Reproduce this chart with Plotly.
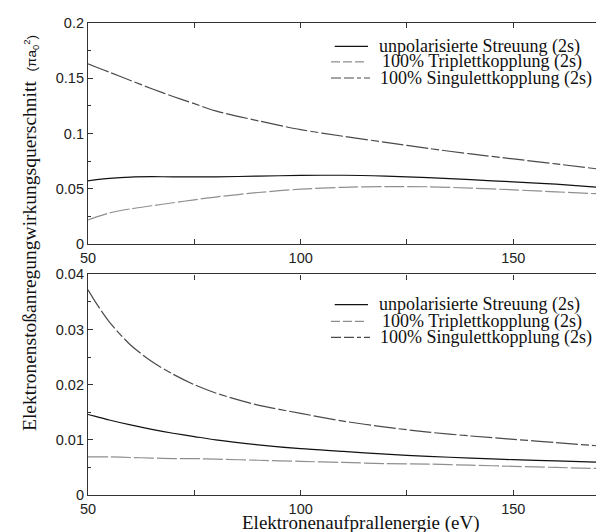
import plotly.graph_objects as go

# ---------------- data ----------------
energy = [50, 52, 55, 60, 65, 70, 75, 80, 90, 100, 110, 120, 130, 140, 150, 160, 175]

top_unpol = [0.0572, 0.0582, 0.0594, 0.0606, 0.0609, 0.0608, 0.0607, 0.0608, 0.0614,
             0.0621, 0.0622, 0.0614, 0.0601, 0.0582, 0.0562, 0.0541, 0.0500]
top_trip = [0.0217, 0.0245, 0.0280, 0.0318, 0.0346, 0.0373, 0.0400, 0.0425, 0.0466,
            0.0496, 0.0513, 0.0520, 0.0518, 0.0506, 0.0490, 0.0472, 0.0445]
top_sing = [0.1630, 0.1600, 0.1555, 0.1480, 0.1405, 0.1335, 0.1270, 0.1205, 0.1115,
            0.1035, 0.0975, 0.0920, 0.0865, 0.0815, 0.0770, 0.0725, 0.0655]

bot_unpol = [0.0146, 0.0142, 0.0136, 0.0127, 0.0119, 0.0112, 0.0106, 0.0100, 0.0091,
             0.0084, 0.0079, 0.0074, 0.0070, 0.0067, 0.0064, 0.0062, 0.0058]
bot_trip = [0.0069, 0.0069, 0.0069, 0.0068, 0.0067, 0.0066, 0.0066, 0.0065, 0.0063,
            0.0061, 0.0059, 0.0057, 0.0056, 0.0054, 0.0052, 0.0050, 0.0047]
bot_sing = [0.0372, 0.0347, 0.0314, 0.0272, 0.0242, 0.0219, 0.0200, 0.0185, 0.0163,
            0.0148, 0.0134, 0.0123, 0.0114, 0.0107, 0.0101, 0.0095, 0.0086]

series_names = ["unpolarisierte Streuung (2s)",
                "100% Triplettkopplung (2s)",
                "100% Singulettkopplung (2s)"]

x_title = "Elektronenaufprallenergie (eV)"
y_title = "Elektronenstoßanregungwirkungsquerschnitt"

# ---------------- geometry ----------------
W, H = 604, 532
ML, MR, MT, MB = 80, 0, 15, 45
PW, PH = W - ML - MR, H - MT - MB

def px(xp):
    return (xp - ML) / PW

def py(yp):
    return (MT + PH - yp) / PH

styles = [
    dict(color="#111111", width=1.2, dash="solid"),
    dict(color="#8f8f8f", width=1.2, dash="20px,3px"),
    dict(color="#4a4a4a", width=1.2, dash="22px,3px,22px,3px,8px,3px"),
]
legend_dash = ["solid", "9px,3px", "10px,3px,10px,3px,4px,3px"]

serif = "Liberation Serif, Times New Roman, serif"
sans = "Liberation Sans, Arial, sans-serif"

fig = go.Figure()
for ys, st, nm in zip([top_unpol, top_trip, top_sing], styles, series_names):
    fig.add_trace(go.Scatter(x=energy, y=ys, mode="lines", name=nm, showlegend=False,
                             line=dict(shape="spline", smoothing=0.8, **st),
                             xaxis="x", yaxis="y"))
for ys, st, nm in zip([bot_unpol, bot_trip, bot_sing], styles, series_names):
    fig.add_trace(go.Scatter(x=energy, y=ys, mode="lines", name=nm, showlegend=False,
                             line=dict(shape="spline", smoothing=0.8, **st),
                             xaxis="x2", yaxis="y2"))

axis_common = dict(showline=True, linecolor="#333333", linewidth=1.2,
                   ticks="inside", ticklen=5, tickcolor="#333333", tickwidth=1,
                   showgrid=False, zeroline=False,
                   tickfont=dict(family=sans, size=14.5, color="#222222"))

xr = [50, 173.2]
fig.update_layout(
    width=W, height=H,
    margin=dict(l=ML, r=MR, t=MT, b=MB),
    plot_bgcolor="white", paper_bgcolor="white",
    xaxis=dict(domain=[0, 1], range=xr, anchor="y", dtick=50, tick0=50, mirror="ticks",
               minor=dict(dtick=25, ticks="inside", ticklen=5, tickcolor="#333333"),
               **axis_common),
    yaxis=dict(domain=[py(236), 1], range=[0, 0.2], anchor="x", dtick=0.05,
               minor=dict(dtick=0.025, ticks="inside", ticklen=3, tickcolor="#333333"),
               **axis_common),
    xaxis2=dict(domain=[0, 1], range=xr, anchor="y2", dtick=50, tick0=50, mirror="ticks",
                minor=dict(dtick=25, ticks="inside", ticklen=5, tickcolor="#333333"),
                **axis_common),
    yaxis2=dict(domain=[0, py(266.4)], range=[0, 0.04], anchor="x2", dtick=0.01,
                minor=dict(dtick=0.005, ticks="inside", ticklen=3, tickcolor="#333333"),
                **axis_common),
)

annotations = []
shapes = []

# custom legends (top and bottom panel)
legend_rows = [[38.3, 53.8, 70.0], [296.7, 313.3, 329.3]]
line_spans = [(326.7, 360), (323, 358), (323, 362)]
text_x = [369, 372, 370]
for rows in legend_rows:
    for i, yrow in enumerate(rows):
        x0, x1 = line_spans[i]
        shapes.append(dict(type="line", xref="paper", yref="paper",
                           x0=px(x0), x1=px(x1), y0=py(yrow), y1=py(yrow),
                           line=dict(color=styles[i]["color"], width=1.2, dash=legend_dash[i])))
        annotations.append(dict(xref="paper", yref="paper", x=px(text_x[i]), y=py(yrow),
                                xanchor="left", yanchor="middle", showarrow=False,
                                text=series_names[i],
                                font=dict(family=serif, size=18, color="#111111")))

# axis titles
annotations.append(dict(xref="paper", yref="paper", x=px(353), y=py(515),
                        xanchor="center", yanchor="middle", showarrow=False,
                        text=x_title, font=dict(family=serif, size=19, color="#111111")))
annotations.append(dict(xref="paper", yref="paper", x=px(22), y=py(225),
                        xanchor="center", yanchor="middle", showarrow=False, textangle=-90,
                        text=y_title + "  <span style='font-family:Liberation Sans, Arial;font-size:13.5px'>(πa<sub>0</sub><sup>2</sup>)</span>",
                        font=dict(family=serif, size=19.5, color="#111111")))

fig.update_layout(annotations=annotations, shapes=shapes)
fig.write_html("out.html")
